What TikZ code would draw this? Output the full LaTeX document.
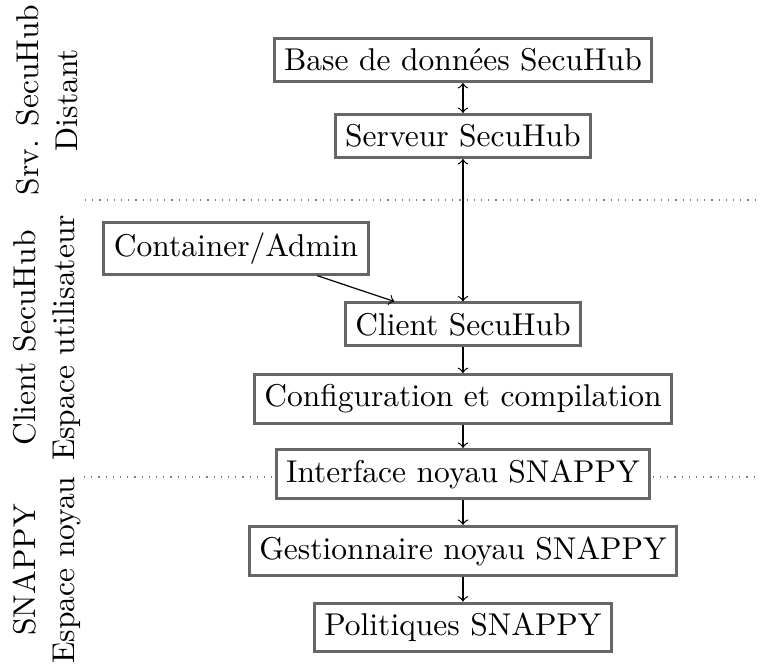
\documentclass[tikz,border=0pt]{standalone}
\usepackage{tikz}
\usetikzlibrary{arrows,positioning}

\tikzset{bloc/.style={draw=black!60, line width=1pt, fill=white},
         zone/.style={rotate=90, align=center}}

\begin{document}
\begin{tikzpicture}[font=\fontsize{10.5pt}{12.8pt}\selectfont]
\useasboundingbox (0,0) rectangle (8.904,-7.779);
% separations between the zones
\draw[gray, dotted] (0.996,-2.343) -- (8.904,-2.343);
\draw[gray, dotted] (0.985,-5.588) -- (8.904,-5.588);
% zone labels
\node[zone] (zsrv) at (0.55,-1.172) {Srv. SecuHub\\Distant};
\node[zone] (zcli) at (0.55,-3.96) {Client SecuHub\\Espace utilisateur};
\node[zone] (zsnap) at (0.55,-6.678) {SNAPPY\\Espace noyau};
% blocks
\node[bloc] (bdd) at (5.424,-0.703) {Base de données SecuHub};
\node[bloc] (serveur) at (5.424,-1.593) {Serveur SecuHub};
\node[bloc] (admin) at (2.765,-2.911) {Container/Admin};
\node[bloc] (client) at (5.424,-3.801) {Client SecuHub};
\node[bloc] (config) at (5.424,-4.674) {Configuration et compilation};
\node[bloc] (interface) at (5.424,-5.553) {Interface noyau SNAPPY};
\node[bloc] (gest) at (5.424,-6.455) {Gestionnaire noyau SNAPPY};
\node[bloc] (pol) at (5.424,-7.351) {Politiques SNAPPY};
% arrows
\draw[<->] (bdd) -- (serveur);
\draw[<->] (serveur) -- (client);
\draw[->] (admin) -- (client);
\draw[->] (client) -- (config);
\draw[->] (config) -- (interface);
\draw[->] (interface) -- (gest);
\draw[->] (gest) -- (pol);
\end{tikzpicture}
\end{document}
